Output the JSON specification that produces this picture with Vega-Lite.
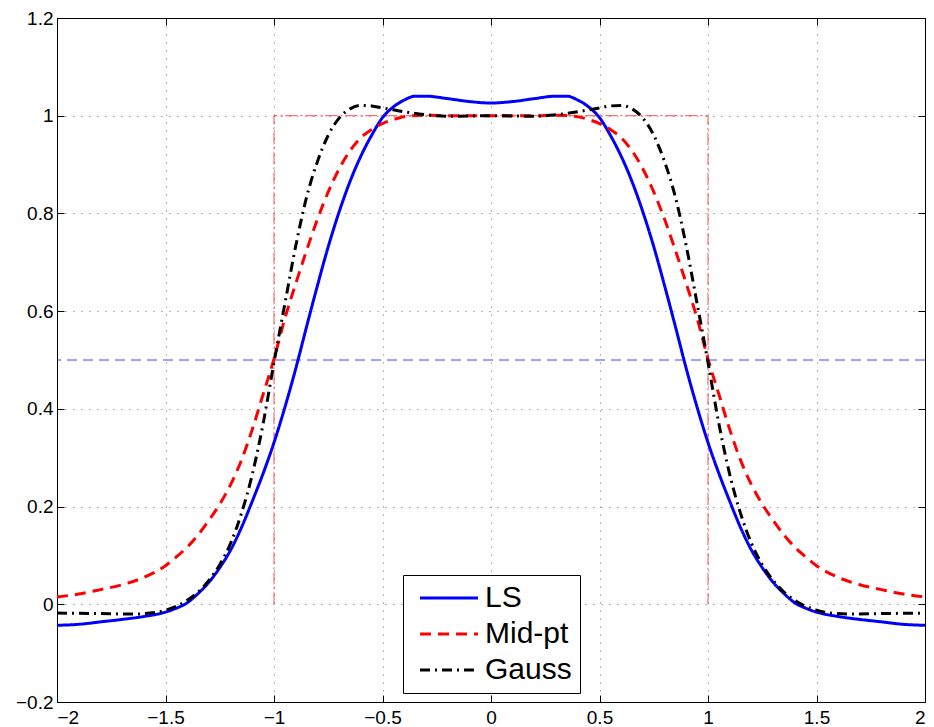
{
  "$schema": "https://vega.github.io/schema/vega-lite/v6.json",
  "width": 868,
  "height": 684,
  "autosize": "none",
  "padding": {"left": 57, "top": 18, "right": 9, "bottom": 25},
  "background": "white",
  "config": {
    "view": {"stroke": "black", "strokeWidth": 1},
    "font": "Liberation Sans",
    "axis": {
      "labelFont": "Liberation Sans",
      "labelFontSize": 19,
      "labelColor": "black",
      "domain": false,
      "tickColor": "black",
      "tickSize": -7,
      "title": null
    },
    "legend": {
      "labelFont": "Liberation Sans"
    }
  },
  "datasets": {
    "curves": [
      {"s": "LS", "x": -2.0, "y": -0.043}, {"s": "LS", "x": -1.9, "y": -0.041}, {"s": "LS", "x": -1.8, "y": -0.036}, {"s": "LS", "x": -1.7, "y": -0.031}, {"s": "LS", "x": -1.6, "y": -0.025}, {"s": "LS", "x": -1.5, "y": -0.016}, {"s": "LS", "x": -1.45, "y": -0.008}, {"s": "LS", "x": -1.4, "y": 0.003}, {"s": "LS", "x": -1.35, "y": 0.022}, {"s": "LS", "x": -1.3, "y": 0.045}, {"s": "LS", "x": -1.25, "y": 0.075}, {"s": "LS", "x": -1.2, "y": 0.111}, {"s": "LS", "x": -1.15, "y": 0.157}, {"s": "LS", "x": -1.1, "y": 0.211}, {"s": "LS", "x": -1.05, "y": 0.268}, {"s": "LS", "x": -1.0, "y": 0.331}, {"s": "LS", "x": -0.95, "y": 0.403}, {"s": "LS", "x": -0.9, "y": 0.482}, {"s": "LS", "x": -0.85, "y": 0.568}, {"s": "LS", "x": -0.8, "y": 0.652}, {"s": "LS", "x": -0.75, "y": 0.732}, {"s": "LS", "x": -0.7, "y": 0.803}, {"s": "LS", "x": -0.65, "y": 0.865}, {"s": "LS", "x": -0.6, "y": 0.917}, {"s": "LS", "x": -0.55, "y": 0.96}, {"s": "LS", "x": -0.5, "y": 0.996}, {"s": "LS", "x": -0.45, "y": 1.018}, {"s": "LS", "x": -0.4, "y": 1.032}, {"s": "LS", "x": -0.35, "y": 1.04}, {"s": "LS", "x": -0.3, "y": 1.04}, {"s": "LS", "x": -0.2, "y": 1.035}, {"s": "LS", "x": -0.1, "y": 1.029}, {"s": "LS", "x": 0.0, "y": 1.026},
      {"s": "LS", "x": 0.1, "y": 1.029}, {"s": "LS", "x": 0.2, "y": 1.035}, {"s": "LS", "x": 0.3, "y": 1.04}, {"s": "LS", "x": 0.35, "y": 1.04}, {"s": "LS", "x": 0.4, "y": 1.032}, {"s": "LS", "x": 0.45, "y": 1.018}, {"s": "LS", "x": 0.5, "y": 0.996}, {"s": "LS", "x": 0.55, "y": 0.96}, {"s": "LS", "x": 0.6, "y": 0.917}, {"s": "LS", "x": 0.65, "y": 0.865}, {"s": "LS", "x": 0.7, "y": 0.803}, {"s": "LS", "x": 0.75, "y": 0.732}, {"s": "LS", "x": 0.8, "y": 0.652}, {"s": "LS", "x": 0.85, "y": 0.568}, {"s": "LS", "x": 0.9, "y": 0.482}, {"s": "LS", "x": 0.95, "y": 0.403}, {"s": "LS", "x": 1.0, "y": 0.331}, {"s": "LS", "x": 1.05, "y": 0.268}, {"s": "LS", "x": 1.1, "y": 0.211}, {"s": "LS", "x": 1.15, "y": 0.157}, {"s": "LS", "x": 1.2, "y": 0.111}, {"s": "LS", "x": 1.25, "y": 0.075}, {"s": "LS", "x": 1.3, "y": 0.045}, {"s": "LS", "x": 1.35, "y": 0.022}, {"s": "LS", "x": 1.4, "y": 0.003}, {"s": "LS", "x": 1.45, "y": -0.008}, {"s": "LS", "x": 1.5, "y": -0.016}, {"s": "LS", "x": 1.6, "y": -0.025}, {"s": "LS", "x": 1.7, "y": -0.031}, {"s": "LS", "x": 1.8, "y": -0.036}, {"s": "LS", "x": 1.9, "y": -0.041}, {"s": "LS", "x": 2.0, "y": -0.043},

      {"s": "Mid-pt", "x": -2.0, "y": 0.015}, {"s": "Mid-pt", "x": -1.9, "y": 0.021}, {"s": "Mid-pt", "x": -1.8, "y": 0.03}, {"s": "Mid-pt", "x": -1.7, "y": 0.04}, {"s": "Mid-pt", "x": -1.6, "y": 0.055}, {"s": "Mid-pt", "x": -1.5, "y": 0.079}, {"s": "Mid-pt", "x": -1.45, "y": 0.097}, {"s": "Mid-pt", "x": -1.4, "y": 0.117}, {"s": "Mid-pt", "x": -1.35, "y": 0.142}, {"s": "Mid-pt", "x": -1.3, "y": 0.172}, {"s": "Mid-pt", "x": -1.25, "y": 0.205}, {"s": "Mid-pt", "x": -1.2, "y": 0.245}, {"s": "Mid-pt", "x": -1.15, "y": 0.295}, {"s": "Mid-pt", "x": -1.1, "y": 0.358}, {"s": "Mid-pt", "x": -1.05, "y": 0.43}, {"s": "Mid-pt", "x": -1.0, "y": 0.502}, {"s": "Mid-pt", "x": -0.95, "y": 0.585}, {"s": "Mid-pt", "x": -0.9, "y": 0.656}, {"s": "Mid-pt", "x": -0.85, "y": 0.724}, {"s": "Mid-pt", "x": -0.8, "y": 0.788}, {"s": "Mid-pt", "x": -0.75, "y": 0.844}, {"s": "Mid-pt", "x": -0.7, "y": 0.891}, {"s": "Mid-pt", "x": -0.65, "y": 0.928}, {"s": "Mid-pt", "x": -0.6, "y": 0.955}, {"s": "Mid-pt", "x": -0.55, "y": 0.972}, {"s": "Mid-pt", "x": -0.5, "y": 0.984}, {"s": "Mid-pt", "x": -0.45, "y": 0.992}, {"s": "Mid-pt", "x": -0.4, "y": 0.998}, {"s": "Mid-pt", "x": -0.3, "y": 1.001}, {"s": "Mid-pt", "x": -0.2, "y": 1.0}, {"s": "Mid-pt", "x": 0.0, "y": 1.0},
      {"s": "Mid-pt", "x": 0.2, "y": 1.0}, {"s": "Mid-pt", "x": 0.3, "y": 1.001}, {"s": "Mid-pt", "x": 0.4, "y": 0.998}, {"s": "Mid-pt", "x": 0.45, "y": 0.992}, {"s": "Mid-pt", "x": 0.5, "y": 0.984}, {"s": "Mid-pt", "x": 0.55, "y": 0.972}, {"s": "Mid-pt", "x": 0.6, "y": 0.955}, {"s": "Mid-pt", "x": 0.65, "y": 0.928}, {"s": "Mid-pt", "x": 0.7, "y": 0.891}, {"s": "Mid-pt", "x": 0.75, "y": 0.844}, {"s": "Mid-pt", "x": 0.8, "y": 0.788}, {"s": "Mid-pt", "x": 0.85, "y": 0.724}, {"s": "Mid-pt", "x": 0.9, "y": 0.656}, {"s": "Mid-pt", "x": 0.95, "y": 0.585}, {"s": "Mid-pt", "x": 1.0, "y": 0.502}, {"s": "Mid-pt", "x": 1.05, "y": 0.43}, {"s": "Mid-pt", "x": 1.1, "y": 0.358}, {"s": "Mid-pt", "x": 1.15, "y": 0.295}, {"s": "Mid-pt", "x": 1.2, "y": 0.245}, {"s": "Mid-pt", "x": 1.25, "y": 0.205}, {"s": "Mid-pt", "x": 1.3, "y": 0.172}, {"s": "Mid-pt", "x": 1.35, "y": 0.142}, {"s": "Mid-pt", "x": 1.4, "y": 0.117}, {"s": "Mid-pt", "x": 1.45, "y": 0.097}, {"s": "Mid-pt", "x": 1.5, "y": 0.079}, {"s": "Mid-pt", "x": 1.6, "y": 0.055}, {"s": "Mid-pt", "x": 1.7, "y": 0.04}, {"s": "Mid-pt", "x": 1.8, "y": 0.03}, {"s": "Mid-pt", "x": 1.9, "y": 0.021}, {"s": "Mid-pt", "x": 2.0, "y": 0.015},

      {"s": "Gauss", "x": -2.0, "y": -0.018}, {"s": "Gauss", "x": -1.8, "y": -0.019}, {"s": "Gauss", "x": -1.65, "y": -0.02}, {"s": "Gauss", "x": -1.55, "y": -0.017}, {"s": "Gauss", "x": -1.5, "y": -0.012}, {"s": "Gauss", "x": -1.45, "y": -0.004}, {"s": "Gauss", "x": -1.4, "y": 0.008}, {"s": "Gauss", "x": -1.35, "y": 0.025}, {"s": "Gauss", "x": -1.3, "y": 0.049}, {"s": "Gauss", "x": -1.25, "y": 0.081}, {"s": "Gauss", "x": -1.2, "y": 0.125}, {"s": "Gauss", "x": -1.15, "y": 0.186}, {"s": "Gauss", "x": -1.1, "y": 0.266}, {"s": "Gauss", "x": -1.05, "y": 0.37}, {"s": "Gauss", "x": -1.0, "y": 0.495}, {"s": "Gauss", "x": -0.95, "y": 0.615}, {"s": "Gauss", "x": -0.9, "y": 0.733}, {"s": "Gauss", "x": -0.85, "y": 0.833}, {"s": "Gauss", "x": -0.8, "y": 0.906}, {"s": "Gauss", "x": -0.75, "y": 0.96}, {"s": "Gauss", "x": -0.7, "y": 0.995}, {"s": "Gauss", "x": -0.65, "y": 1.014}, {"s": "Gauss", "x": -0.6, "y": 1.021}, {"s": "Gauss", "x": -0.55, "y": 1.02}, {"s": "Gauss", "x": -0.5, "y": 1.016}, {"s": "Gauss", "x": -0.45, "y": 1.012}, {"s": "Gauss", "x": -0.4, "y": 1.008}, {"s": "Gauss", "x": -0.3, "y": 1.002}, {"s": "Gauss", "x": -0.2, "y": 0.999}, {"s": "Gauss", "x": 0.0, "y": 1.0},
      {"s": "Gauss", "x": 0.2, "y": 0.999}, {"s": "Gauss", "x": 0.3, "y": 1.002}, {"s": "Gauss", "x": 0.4, "y": 1.008}, {"s": "Gauss", "x": 0.45, "y": 1.012}, {"s": "Gauss", "x": 0.5, "y": 1.016}, {"s": "Gauss", "x": 0.55, "y": 1.02}, {"s": "Gauss", "x": 0.6, "y": 1.021}, {"s": "Gauss", "x": 0.65, "y": 1.014}, {"s": "Gauss", "x": 0.7, "y": 0.995}, {"s": "Gauss", "x": 0.75, "y": 0.96}, {"s": "Gauss", "x": 0.8, "y": 0.906}, {"s": "Gauss", "x": 0.85, "y": 0.833}, {"s": "Gauss", "x": 0.9, "y": 0.733}, {"s": "Gauss", "x": 0.95, "y": 0.615}, {"s": "Gauss", "x": 1.0, "y": 0.495}, {"s": "Gauss", "x": 1.05, "y": 0.37}, {"s": "Gauss", "x": 1.1, "y": 0.266}, {"s": "Gauss", "x": 1.15, "y": 0.186}, {"s": "Gauss", "x": 1.2, "y": 0.125}, {"s": "Gauss", "x": 1.25, "y": 0.081}, {"s": "Gauss", "x": 1.3, "y": 0.049}, {"s": "Gauss", "x": 1.35, "y": 0.025}, {"s": "Gauss", "x": 1.4, "y": 0.008}, {"s": "Gauss", "x": 1.45, "y": -0.004}, {"s": "Gauss", "x": 1.5, "y": -0.012}, {"s": "Gauss", "x": 1.55, "y": -0.017}, {"s": "Gauss", "x": 1.65, "y": -0.02}, {"s": "Gauss", "x": 1.8, "y": -0.019}, {"s": "Gauss", "x": 2.0, "y": -0.018}
    ],
    "ideal": [
      {"o": 1, "x": -1, "y": 0},
      {"o": 2, "x": -1, "y": 1},
      {"o": 3, "x": 1, "y": 1},
      {"o": 4, "x": 1, "y": 0}
    ],
    "half": [
      {"h": 0.5}
    ]
  },
  "resolve": {"axis": {"x": "independent", "y": "independent"}},
  "layer": [
    {
      "data": {"name": "ideal"},
      "mark": {"type": "line", "color": "#ff0000", "strokeWidth": 1, "strokeDash": [12, 3, 2, 3], "opacity": 0.7},
      "encoding": {
        "x": {"field": "x", "type": "quantitative", "scale": {"domain": [-2, 2], "nice": false, "zero": false}, "axis": null},
        "y": {"field": "y", "type": "quantitative", "scale": {"domain": [-0.2, 1.2], "nice": false, "zero": false}, "axis": null},
        "order": {"field": "o"}
      }
    },
    {
      "mark": {"type": "rule", "color": "#0000ff", "strokeWidth": 1},
      "encoding": {"x": {"datum": 0, "type": "quantitative", "axis": null}}
    },
    {
      "data": {"name": "half"},
      "mark": {"type": "rule", "color": "#2222ff", "strokeWidth": 1, "strokeDash": [10, 6], "opacity": 0.85},
      "encoding": {"y": {"field": "h", "type": "quantitative", "axis": null}}
    },
    {
      "data": {"name": "curves"},
      "mark": {"type": "line", "strokeWidth": 3, "clip": true, "interpolate": "monotone"},
      "encoding": {
        "x": {
          "field": "x", "type": "quantitative",
          "axis": {"orient": "bottom", "values": [-2, -1.5, -1, -0.5, 0, 0.5, 1, 1.5, 2], "grid": true, "gridColor": "#000000", "gridDash": [1, 7], "gridOpacity": 0.55, "labelPadding": 13, "format": "~g"}
        },
        "y": {
          "field": "y", "type": "quantitative",
          "axis": {"orient": "left", "values": [-0.2, 0, 0.2, 0.4, 0.6, 0.8, 1, 1.2], "grid": true, "gridColor": "#000000", "gridDash": [1, 7], "gridOpacity": 0.55, "labelPadding": 11, "format": "~g"}
        },
        "color": {
          "field": "s", "type": "nominal",
          "scale": {"domain": ["LS", "Mid-pt", "Gauss"], "range": ["#0000ff", "#ff0000", "#000000"]},
          "legend": {
            "title": null,
            "orient": "none",
            "legendX": 346,
            "legendY": 557,
            "fillColor": "white",
            "strokeColor": "black",
            "padding": 8,
            "symbolType": "M-2.9,0H2.9",
            "symbolSize": 400,
            "symbolStrokeWidth": 3,
            "symbolOffset": 23,
            "labelFontSize": 30,
            "labelColor": "black",
            "labelOffset": 21,
            "rowPadding": 6,
            "cornerRadius": 0
          }
        },
        "strokeDash": {
          "field": "s", "type": "nominal",
          "scale": {"domain": ["LS", "Mid-pt", "Gauss"], "range": [[1, 0], [11, 7], [10, 5, 2, 5]]},
          "legend": {
            "title": null,
            "orient": "none",
            "legendX": 346,
            "legendY": 557,
            "fillColor": "white",
            "strokeColor": "black",
            "padding": 8,
            "symbolType": "M-2.9,0H2.9",
            "symbolSize": 400,
            "symbolStrokeWidth": 3,
            "symbolOffset": 23,
            "labelFontSize": 30,
            "labelColor": "black",
            "labelOffset": 21,
            "rowPadding": 6,
            "cornerRadius": 0
          }
        }
      }
    },
    {
      "mark": {"type": "point", "opacity": 0},
      "encoding": {
        "x": {"datum": 0, "type": "quantitative", "axis": {"orient": "top", "labels": false, "grid": false, "values": [-2, -1.5, -1, -0.5, 0, 0.5, 1, 1.5, 2]}},
        "y": {"datum": 0, "type": "quantitative", "axis": {"orient": "right", "labels": false, "grid": false, "values": [-0.2, 0, 0.2, 0.4, 0.6, 0.8, 1, 1.2]}}
      }
    }
  ]
}
